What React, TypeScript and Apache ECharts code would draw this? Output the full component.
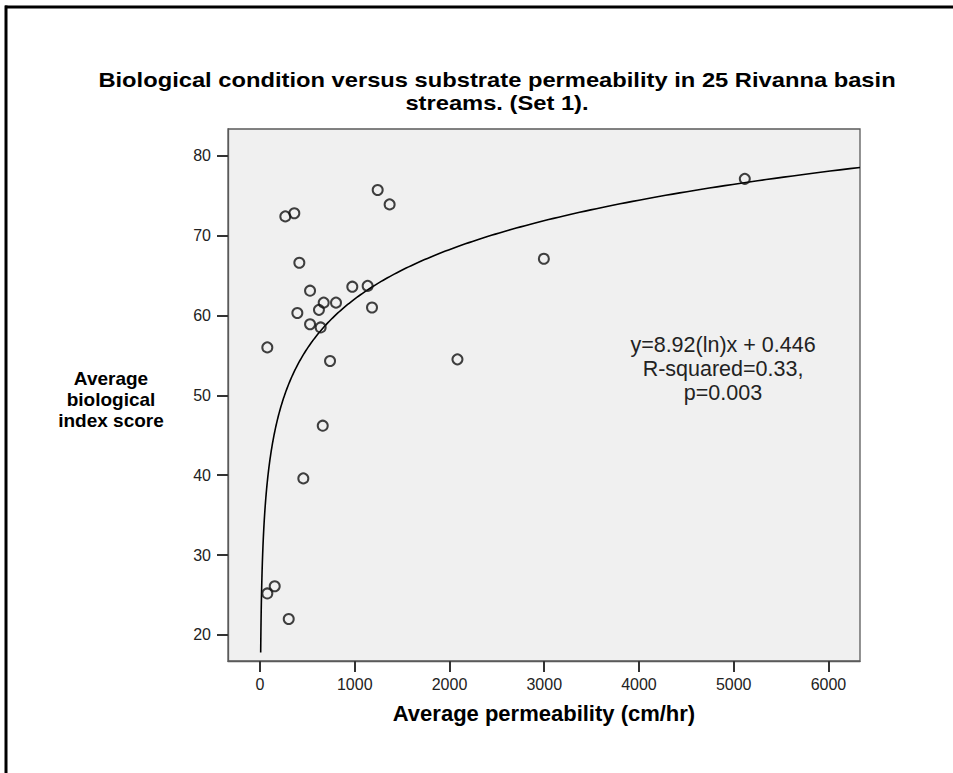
import React, { useEffect, useRef } from "react";
import * as echarts from "echarts";

// Data
const PERMEABILITY = [267, 362, 1242, 1368, 415, 528, 974, 1136, 672, 802, 622, 394, 1182, 528, 640, 77, 739, 2084, 662, 457, 155, 77, 303, 5117, 2996];
const BIO_SCORE = [72.4, 72.8, 75.7, 73.9, 66.6, 63.1, 63.6, 63.7, 61.6, 61.6, 60.7, 60.3, 61.0, 58.9, 58.5, 56.0, 54.3, 54.5, 46.2, 39.6, 26.1, 25.2, 22.0, 77.1, 67.1];
const X_TICKS = [0, 1000, 2000, 3000, 4000, 5000, 6000];
const Y_TICKS = [20, 30, 40, 50, 60, 70, 80];

// Fitted logarithmic model from the chart annotation
const FIT_SLOPE = 8.92;
const FIT_INTERCEPT = 0.446;
const FIT_X_START = 7;
const FIT_X_END = 6333;

const TITLE_LINES = [
  "Biological condition versus substrate permeability in 25 Rivanna basin",
  "streams. (Set 1).",
];
const ANNOTATION_LINES = ["y=8.92(ln)x + 0.446", "R-squared=0.33,", "p=0.003"];
const Y_NAME = "Average\nbiological\nindex score";
const X_NAME = "Average permeability (cm/hr)";

const FONT = "'Liberation Sans', Arial, sans-serif";

export default function App() {
  const ref = useRef<HTMLDivElement>(null);

  useEffect(() => {
    if (!ref.current) return;
    const chart = echarts.init(ref.current, undefined, { renderer: "svg" });

    const fit: number[][] = [];
    const n = 400;
    const l0 = Math.log(FIT_X_START);
    const l1 = Math.log(FIT_X_END);
    for (let i = 0; i <= n; i++) {
      const x = Math.exp(l0 + ((l1 - l0) * i) / n);
      fit.push([x, FIT_SLOPE * Math.log(x) + FIT_INTERCEPT]);
    }

    const points = PERMEABILITY.map((x, i) => [x, BIO_SCORE[i]]);

    chart.setOption({
      animation: false,
      backgroundColor: "#ffffff",
      grid: {
        left: 228,
        top: 129,
        width: 632,
        height: 532,
        show: true,
        backgroundColor: "#f0f0f0",
        borderColor: "#5a5a5a",
        borderWidth: 1.3,
      },
      xAxis: {
        type: "value",
        min: -338,
        max: 6333,
        axisLine: { show: true, onZero: false, lineStyle: { color: "#5a5a5a", width: 1.3 } },
        axisTick: { show: true, length: 11, customValues: X_TICKS, lineStyle: { color: "#333", width: 2 } },
        axisLabel: {
          customValues: X_TICKS,
          margin: 15,
          fontSize: 16,
          color: "#222",
          fontFamily: FONT,
          formatter: (v: number) => String(v),
        },
        splitLine: { show: false },
      },
      yAxis: {
        type: "value",
        min: 16.74,
        max: 83.34,
        axisLine: { show: true, onZero: false, lineStyle: { color: "#5a5a5a", width: 1.3 } },
        axisTick: { show: true, length: 11, customValues: Y_TICKS, lineStyle: { color: "#333", width: 2 } },
        axisLabel: {
          customValues: Y_TICKS,
          margin: 17,
          fontSize: 16,
          color: "#222",
          fontFamily: FONT,
          formatter: (v: number) => String(v),
        },
        splitLine: { show: false },
      },
      series: [
        {
          type: "line",
          data: fit,
          showSymbol: false,
          smooth: false,
          lineStyle: { color: "#000", width: 1.6 },
          silent: true,
          z: 2,
        },
        {
          type: "scatter",
          data: points,
          symbol: "circle",
          symbolSize: 10,
          itemStyle: { color: "rgba(0,0,0,0)", borderColor: "#111", borderWidth: 2 },
          z: 3,
        },
      ],
      graphic: [
        { type: "line", shape: { x1: 5, y1: 7, x2: 953, y2: 7 }, style: { stroke: "#000", lineWidth: 3 } },
        { type: "line", shape: { x1: 6, y1: 5.5, x2: 6, y2: 773 }, style: { stroke: "#000", lineWidth: 3 } },
        {
          type: "text",
          x: 497,
          y: 80,
          scaleX: 1.13,
          style: { text: TITLE_LINES[0], font: `bold 21px ${FONT}`, fill: "#000", textAlign: "center", textVerticalAlign: "middle" },
        },
        {
          type: "text",
          x: 497,
          y: 103,
          scaleX: 1.13,
          style: { text: TITLE_LINES[1], font: `bold 21px ${FONT}`, fill: "#000", textAlign: "center", textVerticalAlign: "middle" },
        },
        {
          type: "text",
          x: 111,
          y: 399,
          style: {
            text: Y_NAME,
            font: `bold 19px ${FONT}`,
            fill: "#000",
            textAlign: "center",
            textVerticalAlign: "middle",
            lineHeight: 21,
          },
        },
        {
          type: "text",
          x: 544,
          y: 713,
          style: { text: X_NAME, font: `bold 22px ${FONT}`, fill: "#000", textAlign: "center", textVerticalAlign: "middle" },
        },
        {
          type: "text",
          x: 723,
          y: 369,
          z: 10,
          style: {
            text: ANNOTATION_LINES.join("\n"),
            font: `21.5px ${FONT}`,
            fill: "#222",
            textAlign: "center",
            textVerticalAlign: "middle",
            lineHeight: 24,
          },
        },
      ],
    });

    return () => chart.dispose();
  }, []);

  return (
    <div
      ref={ref}
      style={{ position: "fixed", left: 0, top: 0, width: 953, height: 773 }}
    />
  );
}
